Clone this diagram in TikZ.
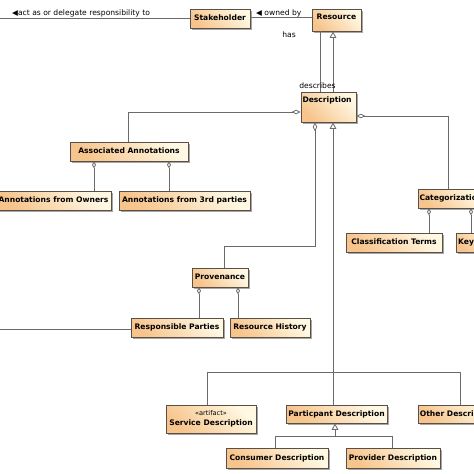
\documentclass[tikz,border=0pt]{standalone}
\usepackage{fontspec}
\setmainfont{DejaVu Sans}
\usetikzlibrary{arrows.meta,shadows}
\definecolor{boxdark}{HTML}{F7C48C}
\definecolor{boxlight}{HTML}{FFF9E4}
\definecolor{boxline}{HTML}{5A5048}
\definecolor{connc}{HTML}{6A6A6A}
\tikzset{
  cls/.style={draw=boxline, line width=0.7pt, bottom color=boxdark, top color=boxlight, shading angle=-45,
    drop shadow={shadow xshift=1.6pt, shadow yshift=-1.6pt, fill=black!35, opacity=1},
    inner sep=1.5pt, text height=5.8pt, text depth=1.5pt,
    font=\fontsize{7.6}{9}\selectfont\bfseries},
  lbl/.style={inner sep=0pt, font=\fontsize{7.6}{9}\selectfont},
  conn/.style={draw=connc, line width=0.8pt},
  agg/.style={conn, {Diamond[open,length=9pt,width=4.5pt]}-},
  aggs/.style={conn, {Diamond[open,length=7pt,width=4pt]}-},
  gen/.style={conn, {Triangle[open,length=6.5pt,width=6.5pt]}-}
}
\begin{document}
\begin{tikzpicture}[x=1pt,y=-1pt]
\useasboundingbox (0,0) rectangle (474,474);
\clip (0,0) rectangle (474,474);
\fill[white] (0,0) rectangle (474,474);

% classes
\node[cls, minimum width=60, minimum height=19] (stake) at (220,18.5) {Stakeholder};
\node[cls, minimum width=49, minimum height=22, text depth=7pt] (res) at (336.5,20) {Resource};
\node[cls, minimum width=55, minimum height=30, text depth=15.5pt, text width=52pt, align=left] (desc) at (328.5,107) {Description};
\node[cls, minimum width=118, minimum height=19] (assoc) at (129,151.5) {Associated Annotations};
\node[cls, minimum width=115, minimum height=19] (owners) at (53.5,200.5) {Annotations from Owners};
\node[cls, minimum width=131, minimum height=19] (third) at (184.5,200.5) {Annotations from 3rd parties};
\node[cls, minimum width=66, minimum height=19] (categ) at (451,198.5) {Categorization};
\node[cls, minimum width=46, minimum height=19] (keyw) at (479,242.5) {Keywords};
\node[cls, minimum width=96, minimum height=19] (classif) at (394,242.5) {Classification Terms};
\node[cls, minimum width=56, minimum height=19] (prov) at (220,277.5) {Provenance};
\node[cls, minimum width=92, minimum height=19] (resp) at (177,327.5) {Responsible Parties};
\node[cls, minimum width=80, minimum height=19] (hist) at (270,327.5) {Resource History};
\node[cls, minimum width=90, minimum height=28, text height={}, text depth={}, align=center] (serv) at (211,419)
  {{\fontsize{6.6}{7.5}\selectfont\mdseries «artifact»}\\[0.5pt]Service Description};
\node[cls, minimum width=101, minimum height=18] (part) at (336.5,414) {Particpant Description};
\node[cls, minimum width=80, minimum height=18] (other) at (458,414) {Other Description};
\node[cls, minimum width=102, minimum height=20] (cons) at (277,458) {Consumer Description};
\node[cls, minimum width=94, minimum height=20] (provd) at (393,458) {Provider Description};

% helper coordinates
\coordinate (L1) at (0,18);
\coordinate (L2) at (0,329);
\coordinate (y17) at (0,17);
\coordinate (x320) at (320,0);
\coordinate (x333) at (333,0);
\coordinate (c1) at (128,112);
\coordinate (c2) at (448,116);
\coordinate (c3) at (315,246);
\coordinate (c3b) at (224,246);
\coordinate (c4) at (333,372);
\coordinate (c5) at (207,372);
\coordinate (c6) at (460,372);
\coordinate (c7) at (335,436);
\coordinate (c8) at (275,436);
\coordinate (c9) at (392,436);
\coordinate (d1) at (94,0);
\coordinate (d2) at (169,0);
\coordinate (d3) at (429,0);
\coordinate (d4) at (471,0);
\coordinate (d5) at (199,0);
\coordinate (d6) at (238,0);

% connectors
\draw[conn] (L1) -- (stake.west |- L1);
\draw[conn] (stake.east |- y17) -- (res.west |- y17);
\draw[conn] (res.south -| x320) -- (desc.north -| x320);
\draw[gen] (res.south -| x333) -- (desc.north -| x333);
\draw[agg] (desc.west |- c1) -| (assoc.north -| c1);
\draw[agg] (desc.east |- c2) -| (categ.north -| c2);
\draw[agg] (desc.south -| c3) |- (c3b) -- (prov.north -| c3b);
\draw[gen] (desc.south -| c4) -- (c4);
\draw[conn] (c5) -- (c6);
\draw[conn] (c5) -- (serv.north -| c5);
\draw[conn] (c4) -- (part.north -| c4);
\draw[conn] (c6) -- (other.north -| c6);
\draw[gen] (part.south -| c7) -- (c7);
\draw[conn] (c8) -- (c9);
\draw[conn] (c8) -- (cons.north -| c8);
\draw[conn] (c9) -- (provd.north -| c9);
\draw[aggs] (assoc.south -| d1) -- (owners.north -| d1);
\draw[aggs] (assoc.south -| d2) -- (third.north -| d2);
\draw[aggs] (categ.south -| d3) -- (classif.north -| d3);
\draw[aggs] (categ.south -| d4) -- (keyw.north -| d4);
\draw[aggs] (prov.south -| d5) -- (resp.north -| d5);
\draw[aggs] (prov.south -| d6) -- (hist.north -| d6);
\draw[conn] (L2) -- (resp.west |- L2);

% labels
\node[lbl, anchor=west] (lact) at (12,13.5) {◀act as or delegate responsibility to};
\node[lbl, anchor=west] (lown) at (256,13) {◀ owned by};
\node[lbl] (lhas) at (289,35) {has};
\node[lbl] (ldesc) at (317.5,85.5) {describes};
\end{tikzpicture}
\end{document}
